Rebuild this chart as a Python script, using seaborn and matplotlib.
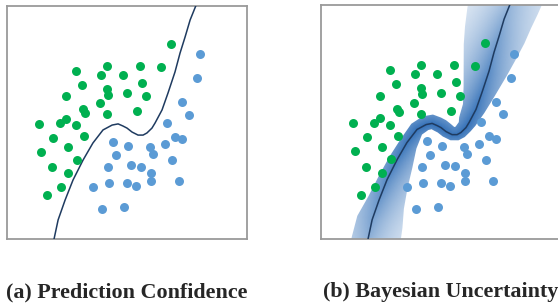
import numpy as np
import matplotlib
matplotlib.use("Agg")
import matplotlib.pyplot as plt
import seaborn as sns
from matplotlib.patches import Polygon

# green class (0-10 units inside the frame)
green_x = [6.85, 2.86, 4.17, 5.53, 6.43, 3.93, 4.85, 3.14, 5.64, 4.17, 4.21, 5.01, 2.47, 5.78, 3.88, 3.17,
           3.25, 4.18, 5.42, 2.44, 2.19, 1.35, 2.89, 1.90, 3.19, 2.54, 1.42, 2.93, 1.86, 2.54, 2.25, 1.67]
green_y = [8.39, 7.22, 7.43, 7.42, 7.40, 7.03, 7.05, 6.62, 6.70, 6.45, 6.19, 6.26, 6.12, 6.12, 5.82, 5.56,
           5.41, 5.36, 5.48, 5.16, 4.96, 4.94, 4.89, 4.35, 4.42, 3.95, 3.74, 3.41, 3.07, 2.82, 2.24, 1.90]

# blue class
blue_x = [8.04, 7.92, 7.28, 7.60, 6.65, 7.00, 7.28, 6.58, 4.43, 5.04, 5.94, 6.07, 4.56, 6.88, 5.18, 5.60,
          4.19, 6.00, 4.25, 5.01, 5.39, 6.01, 7.17, 3.58, 3.97, 4.88]
blue_y = [7.92, 6.90, 5.86, 5.34, 4.99, 4.39, 4.28, 4.08, 4.17, 3.99, 3.95, 3.65, 3.59, 3.38, 3.17, 3.11,
          3.08, 2.84, 2.41, 2.41, 2.27, 2.47, 2.47, 2.24, 1.30, 1.37]

# decision boundary (first / last point sit just outside the frame)
curve_x = [1.79, 1.96, 2.13, 2.42, 2.75, 3.17, 3.58, 4.00, 4.38, 4.63, 4.83, 5.00, 5.21,
           5.46, 5.67, 5.83, 6.04, 6.17, 6.46, 6.71, 7.00, 7.21, 7.42, 7.63, 7.88, 8.13]
curve_y = [-0.82, 0.00, 0.82, 1.67, 2.53, 3.39, 4.12, 4.68, 4.89, 4.94, 4.85, 4.76, 4.59,
           4.46, 4.46, 4.55, 4.76, 4.98, 5.54, 6.27, 7.17, 7.98, 8.67, 9.40, 10.04, 10.67]

# uncertainty on each side of the boundary (upper-left / lower-right)
unc_upper = [0.70, 0.68, 0.64, 0.47, 0.38, 0.34, 0.30, 0.34, 0.38, 0.38, 0.38, 0.38, 0.38,
             0.34, 0.34, 0.34, 0.38, 0.47, 0.59, 0.81, 1.10, 1.31, 1.48, 1.61, 1.74, 1.80]
unc_lower = [1.40, 1.36, 1.31, 1.10, 0.93, 0.72, 0.47, 0.30, 0.25, 0.25, 0.25, 0.25, 0.25,
             0.25, 0.25, 0.25, 0.25, 0.30, 0.38, 0.55, 0.76, 0.97, 1.10, 1.19, 1.23, 1.25]

titles = ["(a) Prediction Confidence", "(b) Bayesian Uncertainty"]

GREEN = "#00b050"
BLUE = "#5b9bd5"
LINE = "#1f3b60"
BAND = np.array([40, 105, 180]) / 255

sns.set_style("white")
plt.rcParams["font.family"] = ["Liberation Serif", "DejaVu Serif"]

fig = plt.figure(figsize=(5.58, 3.08), dpi=100)
ax_a = fig.add_axes([7 / 558, 69 / 308, 240 / 558, 233 / 308])
ax_b = fig.add_axes([321 / 558, 69 / 308, 240 / 558, 234 / 308])


def draw_points(ax):
    sns.scatterplot(x=green_x, y=green_y, color=GREEN, s=42, linewidth=0, ax=ax, zorder=4)
    sns.scatterplot(x=blue_x, y=blue_y, color=BLUE, s=42, linewidth=0, ax=ax, zorder=4)
    ax.plot(curve_x, curve_y, color=LINE, lw=1.1, zorder=3)
    ax.set_xlim(0, 10)
    ax.set_ylim(0, 10)
    ax.set_xticks([])
    ax.set_yticks([])
    for sp in ax.spines.values():
        sp.set_color("#9a9a9a")
        sp.set_linewidth(1.3)


def draw_band(ax):
    cx = np.array(curve_x)
    cy = np.array(curve_y)
    tx = np.gradient(cx)
    ty = np.gradient(cy)
    nrm = np.hypot(tx, ty)
    nx, ny = -ty / nrm, tx / nrm
    up = np.column_stack([cx + nx * unc_upper, cy + ny * unc_upper])
    lo = np.column_stack([cx - nx * unc_lower, cy - ny * unc_lower])
    patch = Polygon(np.vstack([up, lo[::-1]]), closed=True, facecolor="none",
                    edgecolor="none", transform=ax.transData)
    ax.add_patch(patch)

    # shade: darkest on the boundary and around the wiggle, fading outwards
    g = np.linspace(0, 10, 400)
    gx, gy = np.meshgrid(g, g)
    pts = np.column_stack([gx.ravel(), gy.ravel()])
    a = np.column_stack([cx[:-1], cy[:-1]])
    b = np.column_stack([cx[1:], cy[1:]])
    ab = b - a
    ap = pts[:, None, :] - a[None, :, :]
    t = np.clip((ap * ab).sum(-1) / (ab * ab).sum(-1), 0, 1)
    proj = a[None] + t[..., None] * ab[None]
    d = np.sqrt(((pts[:, None, :] - proj) ** 2).sum(-1)).min(1).reshape(gx.shape)
    core = 0.95 - 0.45 * np.clip(np.abs(gy - 4.8) / 5.2, 0, 1) ** 1.2
    alpha = core * np.exp(-d / 1.6)
    img = np.zeros(gx.shape + (4,))
    img[..., :3] = BAND
    img[..., 3] = alpha
    im = ax.imshow(img, extent=(0, 10, 0, 10), origin="lower", interpolation="bilinear",
                   aspect="auto", zorder=1)
    im.set_clip_path(patch)


draw_points(ax_a)
draw_band(ax_b)
draw_points(ax_b)

for ax, title in zip([ax_a, ax_b], titles):
    box = ax.get_position()
    fig.text(box.x0 + box.width / 2, 11 / 308, title, ha="center", va="baseline",
             fontsize=15.8, fontweight="bold")

fig.savefig("out.png", dpi=100)
